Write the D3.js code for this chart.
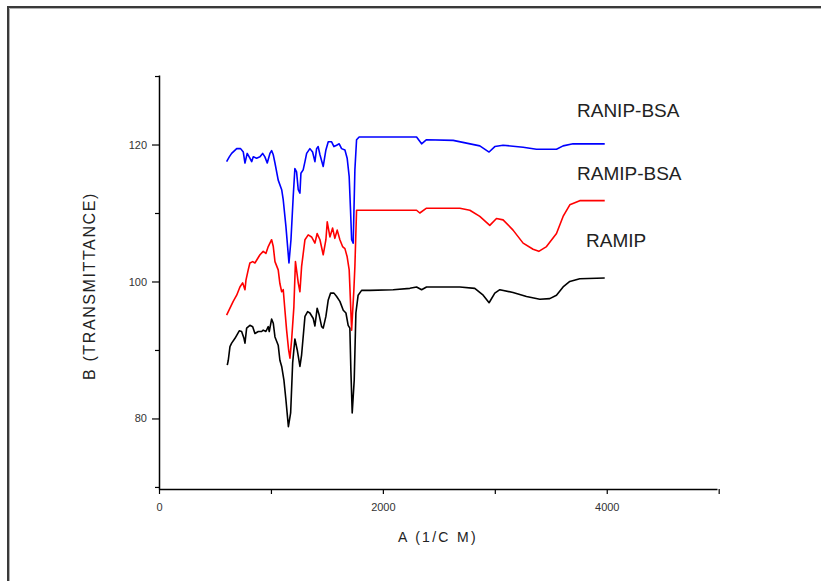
<!DOCTYPE html>
<html>
<head>
<meta charset="utf-8">
<script src="https://cdn.jsdelivr.net/npm/d3@7"></script>
<style>
  html, body { margin: 0; padding: 0; background: #fff; }
  svg { display: block; }
  text { font-family: "Liberation Sans", Arial, sans-serif; }
</style>
</head>
<body>
<svg id="chart" width="821" height="581"></svg>
<script>
// ---- Data (wavenumber 1/cm, transmittance) ----
const seriesNames = ["RANIP-BSA", "RAMIP-BSA", "RAMIP"];
const seriesColors = ["#0000ff", "#ff0000", "#000000"];

const ranipBsaX = [604,628,649,694,729,753,768,788,812,828,842,872,902,926,946,967,991,1006,1021,1036,1065,1096,1110,1134,1154,1161,1179,1199,1214,1229,1244,1259,1268,1288,1304,1319,1348,1372,1393,1408,1422,1438,1467,1491,1512,1542,1563,1587,1610,1631,1661,1681,1699,1712,1721,1735,1750,1765,1788,1884,2301,2346,2390,2628,2866,2949,3000,3074,3253,3372,3551,3610,3699,3982];
const ranipBsaY = [117.5,118.2,118.7,119.4,119.4,118.9,117.3,118.7,118.0,117.5,118.2,118.0,118.2,118.7,118.2,117.3,118.7,119.1,118.5,117.3,114.8,113.4,111.9,108.0,104.1,102.7,106.1,112.4,116.5,116.0,113.4,112.9,115.8,116.3,117.5,118.7,119.4,118.9,117.5,119.4,119.7,118.5,116.8,119.2,120.4,120.4,119.7,119.9,120.1,119.4,119.2,118.0,115.3,110.0,106.1,105.6,116.3,120.7,121.1,121.1,121.1,120.1,120.7,120.6,119.8,118.9,119.7,119.9,119.6,119.3,119.3,119.8,120.1,120.1];

const ramipBsaX = [604,634,663,694,723,747,768,777,797,812,837,857,872,902,931,955,976,1006,1021,1036,1065,1080,1096,1110,1125,1140,1158,1170,1185,1205,1219,1244,1259,1274,1304,1333,1363,1393,1413,1438,1467,1491,1503,1527,1551,1571,1592,1616,1640,1661,1681,1699,1721,1741,1750,1765,1788,1884,2301,2330,2390,2688,2777,2866,2955,3015,3074,3163,3253,3342,3393,3462,3551,3610,3670,3759,3982];
const ramipBsaY = [95.1,96.1,97.1,98.0,99.2,99.8,98.8,100.2,101.7,102.7,102.9,102.7,103.1,103.9,104.4,104.1,105.1,106.1,105.1,102.9,101.7,99.7,98.5,98.8,95.8,92.9,90.0,88.8,91.5,96.3,102.9,99.8,98.5,102.2,106.1,106.8,106.5,105.6,107.0,106.1,103.9,106.1,108.7,106.5,107.8,106.3,107.5,106.1,105.1,104.8,103.6,101.7,92.9,98.8,102.2,110.4,110.4,110.4,110.4,110.0,110.7,110.7,110.4,109.5,108.2,109.2,109.0,107.5,105.6,104.7,104.4,105.1,107.0,109.5,111.2,111.8,111.8];

const ramipX = [610,619,634,649,679,717,738,759,768,783,812,837,857,887,917,931,955,976,985,1006,1021,1036,1065,1080,1096,1116,1134,1156,1176,1194,1214,1235,1259,1274,1304,1328,1348,1378,1393,1413,1431,1453,1467,1491,1512,1533,1563,1587,1616,1646,1670,1690,1705,1714,1726,1744,1759,1779,1810,1884,2092,2241,2301,2346,2390,2688,2821,2896,2949,3000,3045,3163,3283,3402,3491,3551,3610,3670,3759,3982];
const ramipY = [87.8,88.5,90.5,91.0,91.7,92.8,92.7,91.7,91.0,93.2,93.6,93.4,92.4,92.7,92.7,92.9,92.7,93.4,92.7,94.5,93.9,91.9,90.7,88.5,87.6,85.6,82.7,78.8,80.8,88.1,91.6,90.0,87.6,89.3,94.9,95.6,95.4,94.6,93.5,96.1,95.1,93.4,93.2,94.9,97.3,98.3,98.3,97.8,97.1,95.8,95.4,93.6,93.2,87.1,80.8,85.6,95.4,98.0,98.7,98.7,98.8,99.0,99.2,98.8,99.2,99.2,99.0,98.0,96.9,98.3,98.8,98.4,97.8,97.4,97.5,98.0,99.2,100.0,100.4,100.5];

const xTickValues = [0, 1000, 2000, 3000, 4000, 5000];
const xTickLabels = ["0", "", "2000", "", "4000", ""];
const yTickValues = [70, 80, 90, 100, 110, 120, 130];
const yTickLabels = ["", "80", "", "100", "", "120", ""];

const xTitle = "A (1/C M)";
const yTitle = "B (TRANSMITTANCE)";

// ---- Layout ----
const svg = d3.select("#chart");
const x = d3.scaleLinear().domain([0, 4985]).range([159, 717]);
const y = d3.scaleLinear().domain([69.7, 130.15]).range([489, 75]);

// frame
svg.append("path")
  .attr("d", "M8,600 L8,7 L830,7")
  .attr("fill", "none").attr("stroke", "#3a3a3a").attr("stroke-width", 2);
svg.append("path")
  .attr("d", "M9.5,600 L9.5,8.5 L830,8.5")
  .attr("fill", "none").attr("stroke", "#b0b0b0").attr("stroke-width", 1);

// axes
const xAxis = d3.axisBottom(x)
  .tickValues(xTickValues)
  .tickFormat((d, i) => xTickLabels[i])
  .tickSizeInner(5).tickSizeOuter(0).tickPadding(9);
const gx = svg.append("g").attr("transform", "translate(0,489)").call(xAxis);
gx.select(".domain").attr("stroke-width", 1.5);
gx.selectAll(".tick line").attr("stroke-width", 1.2);
gx.selectAll(".tick text").attr("font-size", 11).attr("fill", "#333")
  .attr("font-family", "'Liberation Sans', Arial, sans-serif");

const yAxis = d3.axisLeft(y)
  .tickValues(yTickValues)
  .tickFormat((d, i) => yTickLabels[i])
  .tickSizeInner(6).tickSizeOuter(0).tickPadding(6);
const gy = svg.append("g").attr("transform", "translate(159,0)").call(yAxis);
gy.select(".domain").attr("stroke-width", 1.5);
gy.selectAll(".tick line")
  .attr("stroke-width", 1.2)
  .attr("x2", (d, i) => yTickLabels[i] ? -7 : -4);
gy.selectAll(".tick text").attr("font-size", 11).attr("fill", "#333")
  .attr("font-family", "'Liberation Sans', Arial, sans-serif");

// titles
svg.append("text")
  .attr("x", 438).attr("y", 542)
  .attr("text-anchor", "middle")
  .attr("font-size", 14).attr("letter-spacing", 2.3).attr("fill", "#222")
  .text(xTitle);
svg.append("text")
  .attr("transform", "translate(95,286) rotate(-90)")
  .attr("text-anchor", "middle")
  .attr("font-size", 16).attr("letter-spacing", 1.6).attr("fill", "#222")
  .text(yTitle);

// series
const series = [
  { xs: ranipBsaX, ys: ranipBsaY },
  { xs: ramipBsaX, ys: ramipBsaY },
  { xs: ramipX, ys: ramipY }
];
const line = d3.line().x(d => x(d[0])).y(d => y(d[1]));
series.forEach((s, i) => {
  const pts = s.xs.map((v, j) => [v, s.ys[j]]);
  svg.append("path")
    .datum(pts)
    .attr("d", line)
    .attr("fill", "none")
    .attr("stroke", seriesColors[i])
    .attr("stroke-width", 1.6)
    .attr("stroke-linejoin", "round");
});

// series labels
const labelPos = [[577, 117], [577, 180], [586, 247]];
seriesNames.forEach((n, i) => {
  svg.append("text")
    .attr("x", labelPos[i][0]).attr("y", labelPos[i][1])
    .attr("font-size", 19).attr("fill", "#222")
    .text(n);
});
</script>
</body>
</html>
